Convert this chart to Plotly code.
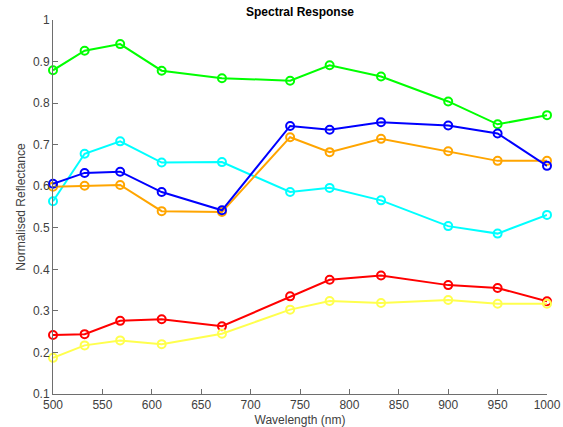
import plotly.graph_objects as go

wavelengths = [500, 532, 568, 610, 671, 740, 780, 832, 900, 950, 1000]
green = [0.879, 0.926, 0.942, 0.878, 0.860, 0.854, 0.891, 0.864, 0.804, 0.749, 0.771]
cyan = [0.564, 0.678, 0.708, 0.657, 0.658, 0.586, 0.596, 0.566, 0.504, 0.486, 0.531]
blue = [0.606, 0.632, 0.635, 0.586, 0.542, 0.745, 0.736, 0.754, 0.746, 0.727, 0.649]
orange = [0.599, 0.601, 0.603, 0.540, 0.538, 0.718, 0.682, 0.714, 0.684, 0.661, 0.661]
red = [0.242, 0.244, 0.276, 0.280, 0.263, 0.335, 0.375, 0.385, 0.362, 0.355, 0.323]
yellow = [0.187, 0.217, 0.229, 0.220, 0.245, 0.303, 0.324, 0.319, 0.326, 0.317, 0.317]

series = [
    (green, "#00ff00"),
    (cyan, "#00ffff"),
    (orange, "#ffa500"),
    (blue, "#0000ff"),
    (red, "#ff0000"),
    (yellow, "#ffff4d"),
]

fig = go.Figure()
for vals, col in series:
    fig.add_trace(go.Scatter(
        x=wavelengths, y=vals, mode="lines+markers",
        line=dict(color=col, width=2),
        marker=dict(symbol="circle-open", size=8, color=col, line=dict(width=2, color=col)),
        showlegend=False, cliponaxis=False,
    ))

font_family = "Liberation Sans, Arial, Helvetica, sans-serif"
axis_common = dict(
    showline=True, linecolor="#6e6e6e", linewidth=1,
    ticks="inside", ticklen=5, tickcolor="#6e6e6e",
    showgrid=False, zeroline=False, mirror=False, automargin=False,
    tickfont=dict(size=12, color="#404040", family=font_family),
)
fig.update_layout(
    width=563, height=427,
    margin=dict(l=53, r=16, t=20, b=33),
    paper_bgcolor="white", plot_bgcolor="white",
    title=dict(text="<b>Spectral Response</b>", x=0.5, xref="paper", xanchor="center",
               y=1 - 12 / 427, yref="container", yanchor="middle",
               font=dict(size=12, color="black", family=font_family)),
    xaxis=dict(range=[500, 1000], tickvals=list(range(500, 1001, 50)),
               title=dict(text="Wavelength (nm)", standoff=6,
                          font=dict(size=12, color="#404040", family=font_family)),
               **axis_common),
    yaxis=dict(range=[0.1, 1.0], tickvals=[0.1, 0.2, 0.3, 0.4, 0.5, 0.6, 0.7, 0.8, 0.9, 1.0],
               ticktext=["0.1", "0.2", "0.3", "0.4", "0.5", "0.6", "0.7", "0.8", "0.9", "1"],
               title=dict(text="Normalised Reflectance", standoff=4,
                          font=dict(size=12, color="#404040", family=font_family)),
               **axis_common),
)
fig.write_html("out.html", config={"displayModeBar": False},
               post_script="document.body.style.margin='0';document.body.style.padding='0';")
